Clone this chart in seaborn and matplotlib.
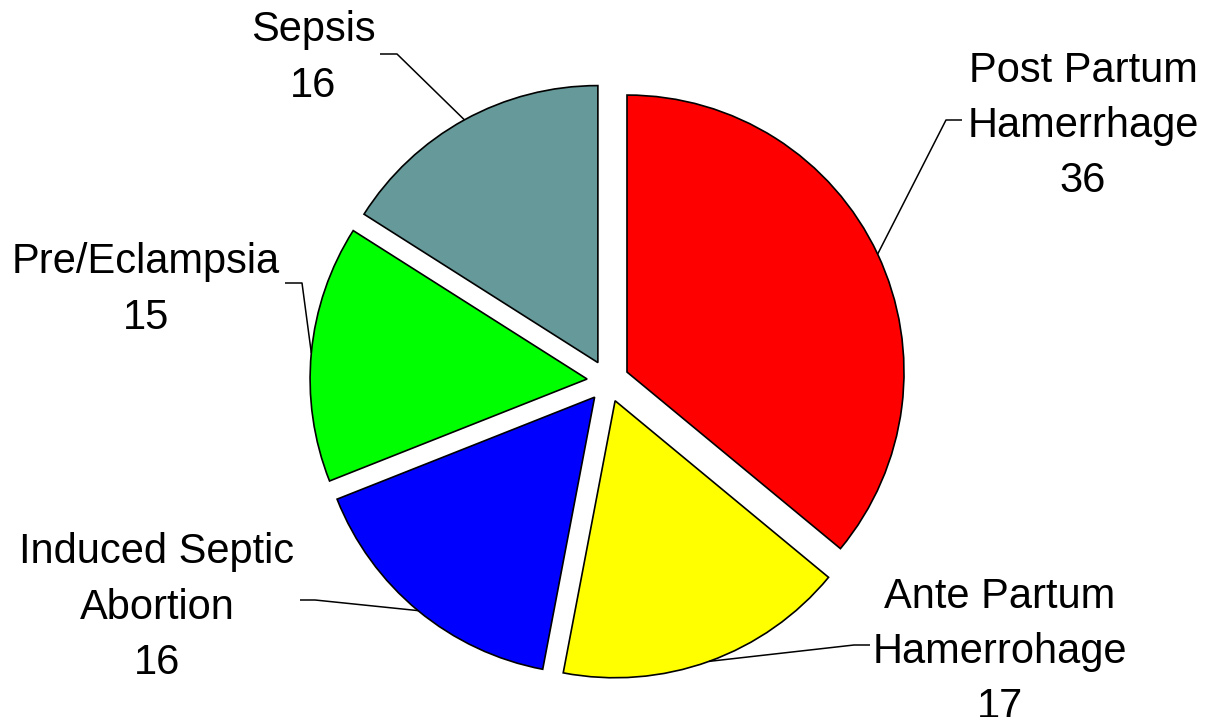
import numpy as np
import matplotlib
matplotlib.use("Agg")
import matplotlib.pyplot as plt
import seaborn as sns

# data
causes = ["Post Partum\nHamerrhage", "Ante Partum\nHamerrohage",
          "Induced Septic\nAbortion", "Pre/Eclampsia", "Sepsis"]
counts = [36, 17, 16, 15, 16]
colors = ["#FF0000", "#FFFF00", "#0000FF", "#00FF00", "#669999"]

sns.set_theme(style="white")
plt.rcParams['font.family'] = ['Liberation Sans', 'DejaVu Sans']

W, H = 1205, 717
fig = plt.figure(figsize=(W / 100, H / 100), dpi=100)
ax = fig.add_axes([0, 0, 1, 1])

# pie geometry in pixel units (y up); matplotlib explode is in data units
cx, cy, R = 608, H - 381, 277
EXPLODE = 21

wedges, _ = ax.pie(counts, colors=colors, startangle=90, counterclock=False,
                   center=(cx, cy), radius=R, explode=[EXPLODE] * len(counts),
                   wedgeprops=dict(edgecolor="black", linewidth=1.2))
ax.set_xlim(0, W)
ax.set_ylim(0, H)
ax.set_aspect("equal")
ax.axis("off")

# label layout: text centre, stub start (next to text), elbow -- pixel coords, y down
label_layout = [
    ((1083, 126), (962, 120), (946, 120)),
    ((1000, 652), (870, 645), (854, 645)),
    ((157, 608), (300, 600), (315, 600)),
    ((146, 290), (285, 283), (302, 283)),
    ((313, 58), (380, 54), (397, 54)),
]

for w, name, val, (txt, s0, s1) in zip(wedges, causes, counts, label_layout):
    mid = np.deg2rad((w.theta1 + w.theta2) / 2)
    ex = cx + (R + EXPLODE) * np.cos(mid)
    ey = cy + (R + EXPLODE) * np.sin(mid)
    ax.plot([s0[0], s1[0], ex], [H - s0[1], H - s1[1], ey],
            color="black", linewidth=1.1, solid_capstyle="butt")
    ax.text(txt[0], H - txt[1], f"{name}\n{val}", ha="center", va="center",
            multialignment="center", fontsize=30, linespacing=1.5, color="black")

fig.savefig("out.png", dpi=100)
